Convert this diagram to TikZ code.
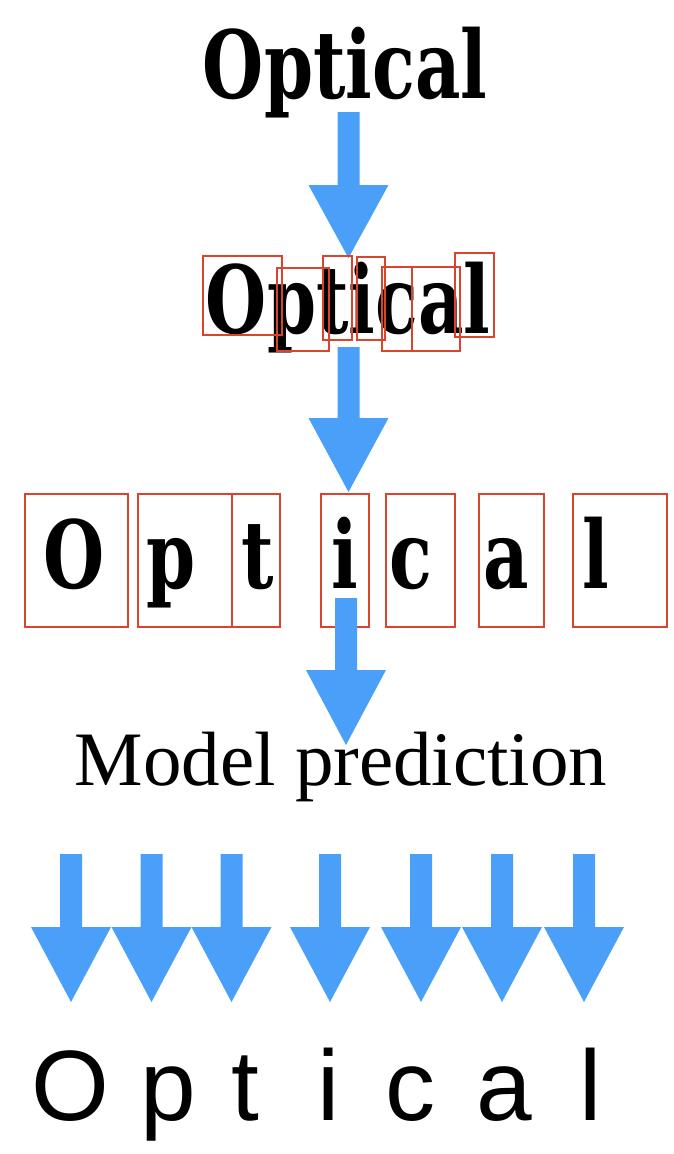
\documentclass[tikz,border=0pt]{standalone}
\usepackage{fontspec}
\newfontfamily\serifA{Liberation Serif}
\newfontfamily\sansA{Liberation Sans}
\newfontfamily\blackA[FakeStretch=0.83]{DejaVu Serif Condensed Bold}
\definecolor{arrowblue}{HTML}{4A9FF9}
\definecolor{boxred}{HTML}{D9442E}
\newcommand\myarrow[4]{% center x, top y, head base y, tip y
  \fill[arrowblue] ({#1-11},{#2}) -- ({#1+11},{#2}) -- ({#1+11},{#3}) -- ({#1+40},{#3})
    -- ({#1},{#4}) -- ({#1-40},{#3}) -- ({#1-11},{#3}) -- cycle;}
\tikzset{
  goth/.style={inner sep=0pt, anchor=base, font=\fontsize{94}{94}\blackA},
  lbox/.style={draw=boxred, line width=1.4pt},
  pred/.style={inner sep=0pt, anchor=base, font=\fontsize{77}{77}\serifA},
  outl/.style={inner sep=0pt, anchor=base, font=\fontsize{100}{100}\sansA},
}
\begin{document}
\begin{tikzpicture}[x=1pt,y=-1pt]
\useasboundingbox[fill=white] (0,0) rectangle (674,1154);
% top word
\node[goth] (w1) at (345,98) {Optical};
\myarrow{348.5}{112}{185}{258}
% second row: word with tight boxes
\node[goth] (w2) at (348,333) {Optical};
\draw[lbox] (203,256) rectangle (282,335);
\draw[lbox] (277,268) rectangle (329,351);
\draw[lbox] (323,256) rectangle (352,340);
\draw[lbox] (357,257) rectangle (385,340);
\draw[lbox] (382,267) rectangle (412,351);
\draw[lbox] (412,267) rectangle (460,351);
\draw[lbox] (455,253) rectangle (494,337);
\myarrow{348.5}{347}{418}{492}
% third row: separated letters
\node[goth] (l1) at (74,588) {O};
\node[goth] (l2) at (171,588) {p};
\node[goth] (l3) at (258,588) {t};
\node[goth] (l4) at (345,588) {i};
\node[goth] (l5) at (411,588) {c};
\node[goth] (l6) at (506,588) {a};
\node[goth] (l7) at (596,588) {l};
\draw[lbox] (25,494) rectangle (128,627);
\draw[lbox] (138,494) rectangle (232,627);
\draw[lbox] (232,494) rectangle (280,627);
\draw[lbox] (321,494) rectangle (369,627);
\draw[lbox] (386,494) rectangle (455,627);
\draw[lbox] (479,494) rectangle (544,627);
\draw[lbox] (573,494) rectangle (667,627);
\myarrow{346}{598}{670}{745}
% model prediction
\node[pred] (mp) at (341,785) {Model prediction};
% bottom arrows
\myarrow{71}{854}{927}{1002}
\myarrow{151.5}{854}{927}{1002}
\myarrow{231.5}{854}{927}{1002}
\myarrow{330}{854}{927}{1002}
\myarrow{421}{854}{927}{1002}
\myarrow{502}{854}{927}{1002}
\myarrow{584}{854}{927}{1002}
% output letters
\node[outl] (o1) at (70,1120) {O};
\node[outl] (o2) at (168,1120) {p};
\node[outl] (o3) at (245,1120) {t};
\node[outl] (o4) at (329,1120) {i};
\node[outl] (o5) at (410,1120) {c};
\node[outl] (o6) at (504,1120) {a};
\node[outl] (o7) at (591,1120) {l};
\end{tikzpicture}
\end{document}
